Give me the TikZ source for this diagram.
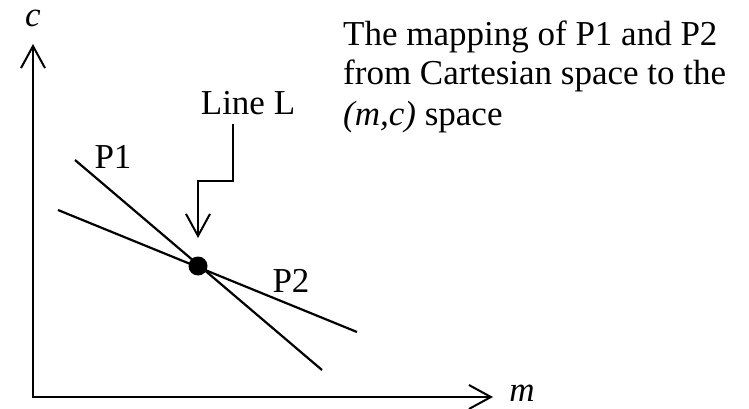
\documentclass[tikz,border=0pt]{standalone}
\usepackage{fontspec}
\setmainfont{Liberation Serif}
\usetikzlibrary{arrows.meta}
\begin{document}
\begin{tikzpicture}[
    x=1pt, y=-1pt,
    axis/.style={line width=2.5pt, line join=miter,
      {Straight Barb[length=22pt, width=24pt, line width=2pt]}-{Straight Barb[length=22pt, width=24pt, line width=2pt]}},
    pointer/.style={line width=2.2pt,
      -{Straight Barb[length=22pt, width=24pt, line width=2pt]}},
    mapline/.style={line width=2.2pt},
    dot/.style={circle, fill, inner sep=0pt, minimum size=19pt},
    lbl/.style={inner sep=0pt, anchor=base, font=\fontsize{35}{40}\selectfont},
  ]
  \useasboundingbox (0,0) rectangle (749,409);

  \coordinate (ctip) at (33,44);
  \coordinate (origin) at (33,397);
  \coordinate (mtip) at (493,397);
  \draw[axis] (ctip) -- (origin) -- (mtip);

  \node[lbl, font=\fontsize{35}{40}\selectfont\itshape] (clabel) at (33,27) {c};
  \node[lbl, font=\fontsize{35}{40}\selectfont\itshape] (mlabel) at (522,401) {m};

  \node[dot] (cross) at (198,266) {};

  \coordinate (p1start) at (75,160);
  \coordinate (p1end) at (322,370);
  \coordinate (p2start) at (58,210);
  \coordinate (p2end) at (357,332);
  \draw[mapline] (p1start) -- (p1end);
  \draw[mapline] (p2start) -- (p2end);

  \node[lbl] (p1label) at (113,168) {P1};
  \node[lbl] (p2label) at (291,292) {P2};

  \node[lbl] (linelabel) at (248,115) {Line L};
  \coordinate (bendtop) at (233,124);
  \coordinate (bendmid) at (198,181);
  \coordinate (pointtip) at (198,238);
  \draw[pointer] (bendtop) |- (bendmid) -- (pointtip);

  \node[lbl, anchor=base west, align=left] (caption) at (343,125)
  {The mapping of P1 and P2\\
  from Cartesian space to the\\
  \textit{(m,c)} space};

\end{tikzpicture}
\end{document}
